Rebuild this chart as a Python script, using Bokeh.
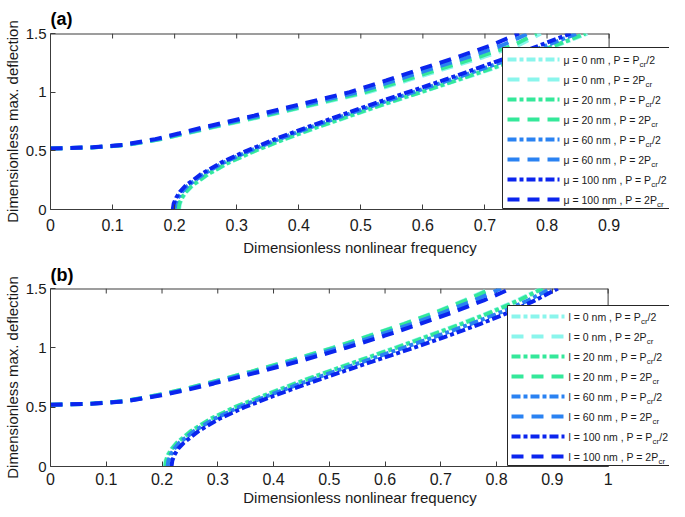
from bokeh.plotting import figure
from bokeh.models import (Range1d, FixedTicker, CustomJSTickFormatter,
                          BoxAnnotation, Arrow, Label)
from bokeh.layouts import column
from bokeh.embed import file_html
from bokeh.resources import INLINE

# ---------------- data ----------------
Y_LOW = [0, 0.05, 0.1, 0.15, 0.2, 0.3, 0.4, 0.5, 0.6, 0.7, 0.8, 0.9, 1.0, 1.1, 1.2, 1.3, 1.4, 1.5]
Y_UP = [0.52, 0.53, 0.55, 0.6, 0.65, 0.7, 0.8, 0.9, 1.0, 1.1, 1.2, 1.3, 1.4, 1.5]

# panel (a): nonlocal parameter mu
A_LOW_0 = [0.207, 0.2085, 0.2125, 0.219, 0.228, 0.254, 0.288, 0.33, 0.378, 0.43, 0.485, 0.54, 0.598, 0.655, 0.712, 0.767, 0.817, 0.865]
A_LOW_20 = [0.206, 0.2075, 0.2115, 0.218, 0.227, 0.253, 0.287, 0.329, 0.377, 0.428, 0.483, 0.538, 0.596, 0.653, 0.709, 0.764, 0.814, 0.862]
A_LOW_60 = [0.2, 0.2015, 0.2055, 0.212, 0.2205, 0.246, 0.279, 0.321, 0.368, 0.419, 0.473, 0.528, 0.585, 0.641, 0.697, 0.75, 0.8, 0.848]
A_LOW_100 = [0.197, 0.1985, 0.2025, 0.2085, 0.217, 0.242, 0.275, 0.316, 0.362, 0.413, 0.466, 0.52, 0.576, 0.632, 0.686, 0.739, 0.789, 0.838]
A_UP_0 = [0, 0.072, 0.123, 0.18, 0.221, 0.262, 0.349, 0.431, 0.513, 0.575, 0.636, 0.698, 0.754, 0.79]
A_UP_20 = [0, 0.071, 0.122, 0.178, 0.219, 0.259, 0.345, 0.426, 0.507, 0.569, 0.629, 0.69, 0.746, 0.783]
A_UP_60 = [0, 0.07, 0.119, 0.174, 0.213, 0.253, 0.337, 0.416, 0.495, 0.555, 0.614, 0.674, 0.728, 0.77]
A_UP_100 = [0, 0.068, 0.116, 0.169, 0.208, 0.246, 0.328, 0.405, 0.482, 0.541, 0.598, 0.656, 0.71, 0.755]

# panel (b): length-scale parameter l
B_LOW_0 = [0.205, 0.2065, 0.2105, 0.217, 0.226, 0.252, 0.286, 0.33, 0.383, 0.438, 0.497, 0.557, 0.617, 0.676, 0.734, 0.788, 0.837, 0.88]
B_LOW_20 = [0.206, 0.2075, 0.2115, 0.218, 0.227, 0.253, 0.287, 0.331, 0.384, 0.44, 0.499, 0.559, 0.62, 0.679, 0.737, 0.791, 0.84, 0.883]
B_LOW_60 = [0.21, 0.2115, 0.2155, 0.222, 0.231, 0.258, 0.293, 0.338, 0.392, 0.449, 0.509, 0.571, 0.633, 0.694, 0.753, 0.808, 0.857, 0.897]
B_LOW_100 = [0.217, 0.2185, 0.2225, 0.229, 0.239, 0.266, 0.302, 0.348, 0.403, 0.462, 0.524, 0.587, 0.651, 0.712, 0.77, 0.823, 0.869, 0.91]
B_UP_0 = [0, 0.075, 0.13, 0.19, 0.238, 0.28, 0.36, 0.435, 0.505, 0.57, 0.632, 0.69, 0.742, 0.79]
B_UP_20 = [0, 0.075, 0.13, 0.19, 0.238, 0.28, 0.36, 0.436, 0.507, 0.572, 0.634, 0.692, 0.745, 0.793]
B_UP_60 = [0, 0.077, 0.133, 0.194, 0.243, 0.286, 0.368, 0.445, 0.517, 0.584, 0.647, 0.706, 0.76, 0.808]
B_UP_100 = [0, 0.079, 0.136, 0.199, 0.249, 0.293, 0.377, 0.456, 0.53, 0.598, 0.662, 0.722, 0.777, 0.826]

PARAM_VALUES = [0, 20, 60, 100]
XTICKS_A = [0, 0.1, 0.2, 0.3, 0.4, 0.5, 0.6, 0.7, 0.8, 0.9]
XTICKS_B = [0, 0.1, 0.2, 0.3, 0.4, 0.5, 0.6, 0.7, 0.8, 0.9, 1.0]
YTICKS = [0, 0.5, 1, 1.5]
X_LABEL = "Dimensionless nonlinear frequency"
Y_LABEL = "Dimensionless max. deflection"

# ---------------- style ----------------
COLORS = ["#8af5ec", "#34e89a", "#2a82f2", "#0b25ee"]
DASH_HALF = "9 3 4 3"   # P = Pcr/2  (dash-dot)
DASH_TWO = "12 8"       # P = 2Pcr   (dashed)
FONT = "Liberation Sans"
AX = "#3c3c3c"
TXT = "#1a1a1a"
W = 669
PAGE_LEFT = 8

ARIAL = {' ': 278, '=': 584, ',': 278, '/': 278, 'n': 556, 'm': 833, 'P': 667,
         'c': 500, 'r': 333, 'l': 222, 'μ': 576}
for d in "0123456789":
    ARIAL[d] = 556


def tw(s, size):
    return sum(ARIAL.get(ch, 556) for ch in s) * size / 1000.0


def fmt():
    return CustomJSTickFormatter(code="return String(Number(tick.toFixed(2)));")


def style_axis(ax, size, standoff, label_standoff):
    ax.axis_line_color = AX
    ax.axis_line_width = 1
    ax.major_tick_line_color = AX
    ax.major_tick_in = 5
    ax.major_tick_out = 0
    ax.minor_tick_line_color = None
    ax.major_label_text_font = FONT
    ax.major_label_text_font_size = size
    ax.major_label_text_color = TXT
    ax.major_label_standoff = standoff
    ax.axis_label_text_font = FONT
    ax.axis_label_text_font_size = "15px"
    ax.axis_label_text_font_style = "normal"
    ax.axis_label_text_color = TXT
    ax.axis_label_standoff = label_standoff


def make_panel(g, title, sym, x_end, xticks, lows, ups):
    fig_top, H = g["fig_top"], g["H"]
    fl, ar, ft, fb = g["frame"]          # frame left, axis right end, frame top, frame bottom
    fr = PAGE_LEFT + W                   # frame extends to the right edge (room for legend)
    x_max = x_end * (fr - fl) / (ar - fl)
    p = figure(width=W, height=H, x_range=Range1d(0, x_max), y_range=Range1d(0, 1.5),
               output_backend="svg", toolbar_location=None,
               min_border_left=fl - PAGE_LEFT, min_border_right=0,
               min_border_top=ft - fig_top, min_border_bottom=(fig_top + H) - fb)
    p.xgrid.visible = False
    p.ygrid.visible = False
    p.outline_line_color = None
    p.background_fill_color = "white"
    p.border_fill_color = "white"

    p.title.text = title
    p.title.text_font = FONT
    p.title.text_font_size = "18px"
    p.title.text_font_style = "bold"
    p.title.text_color = "black"
    p.title.align = "left"
    p.title.standoff = g["title_standoff"]

    xa = p.xaxis[0]
    xa.ticker = FixedTicker(ticks=xticks)
    xa.formatter = fmt()
    xa.bounds = (0, x_end)
    xa.axis_label = X_LABEL
    style_axis(xa, "16px", g["xstand"], g["xlabstand"])
    ya = p.yaxis[0]
    ya.ticker = FixedTicker(ticks=YTICKS)
    ya.formatter = fmt()
    ya.axis_label = Y_LABEL
    style_axis(ya, "15px", 4, 2)

    # box: top edge with inward ticks, right edge
    tick_len = 5 * 1.5 / (fb - ft)
    p.segment(x0=[0], y0=[1.5], x1=[x_end], y1=[1.5], line_color=AX, line_width=2)
    p.segment(x0=[x_end], y0=[0], x1=[x_end], y1=[1.5], line_color=AX, line_width=1)
    p.segment(x0=xticks, y0=[1.5] * len(xticks), x1=xticks, y1=[1.5 - tick_len] * len(xticks),
              line_color=AX, line_width=1)

    for i in range(4):
        p.line(lows[i], Y_LOW, line_color=COLORS[i], line_width=4, line_dash=DASH_HALF)
        p.line(ups[i], Y_UP, line_color=COLORS[i], line_width=4, line_dash=DASH_TWO)

    # legend, in screen coordinates relative to frame bottom-left
    def sx(px):
        return px - fl

    def sy(py):
        return fb - py

    ll, lr, lt, lb = g["legend"]
    p.add_layout(BoxAnnotation(left=sx(ll), right=sx(lr), top=sy(lt), bottom=sy(lb),
                               left_units="screen", right_units="screen",
                               top_units="screen", bottom_units="screen",
                               fill_color="white", fill_alpha=1.0,
                               line_color="#262626", line_width=1, line_alpha=1.0))
    s0, s1, tx = g["sample"]
    FS = 10.5
    k = 0
    for i, v in enumerate(PARAM_VALUES):
        for half in (True, False):
            yc = g["row0"] + g["row_dy"] * k
            k += 1
            p.add_layout(Arrow(end=None, x_start=sx(s0), y_start=sy(yc), x_end=sx(s1), y_end=sy(yc),
                               start_units="screen", end_units="screen",
                               line_color=COLORS[i], line_width=4,
                               line_dash=DASH_HALF if half else DASH_TWO))
            main = f"{sym} = {v} nm , P = " + ("P" if half else "2P")
            p.add_layout(Label(x=sx(tx), y=sy(yc), x_units="screen", y_units="screen",
                               text=main, text_font=FONT, text_font_size=f"{FS}px",
                               text_color=TXT, text_baseline="middle"))
            xs = tx + tw(main, FS)
            p.add_layout(Label(x=sx(xs), y=sy(yc + 5), x_units="screen", y_units="screen",
                               text="cr", text_font=FONT, text_font_size="8px",
                               text_color=TXT, text_baseline="middle"))
            if half:
                p.add_layout(Label(x=sx(xs + tw("cr", 8)), y=sy(yc), x_units="screen", y_units="screen",
                                   text="/2", text_font=FONT, text_font_size=f"{FS}px",
                                   text_color=TXT, text_baseline="middle"))
    return p


GEOM_A = dict(fig_top=0, H=258, frame=(52, 616, 33, 209), title_standoff=9,
              legend=(504, 677, 47, 208), row0=59, row_dy=20.0, sample=(509, 561, 565),
              xstand=9, xlabstand=5)
GEOM_B = dict(fig_top=258, H=251, frame=(52, 615, 288, 466), title_standoff=8,
              legend=(509, 677, 305, 465), row0=316, row_dy=20.0, sample=(513, 566, 570),
              xstand=6, xlabstand=1)

pa = make_panel(GEOM_A, "(a)", "μ", 0.9, XTICKS_A,
                [A_LOW_0, A_LOW_20, A_LOW_60, A_LOW_100],
                [A_UP_0, A_UP_20, A_UP_60, A_UP_100])
pb = make_panel(GEOM_B, "(b)", "l", 1.0, XTICKS_B,
                [B_LOW_0, B_LOW_20, B_LOW_60, B_LOW_100],
                [B_UP_0, B_UP_20, B_UP_60, B_UP_100])

layout = column(pa, pb, spacing=0)
open("out.html", "w").write(file_html(layout, INLINE))
